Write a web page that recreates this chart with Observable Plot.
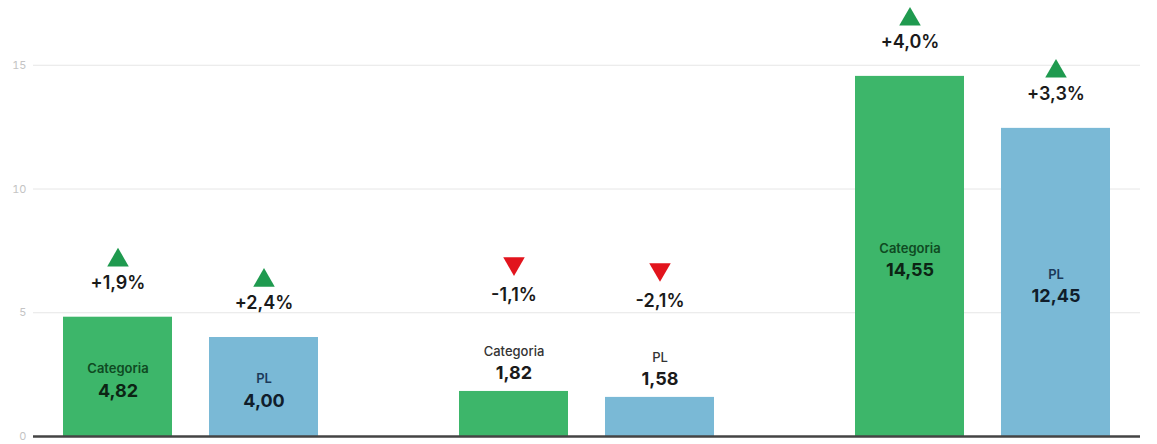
<!DOCTYPE html>
<html>
<head>
<meta charset="utf-8">
<script src="https://cdn.jsdelivr.net/npm/d3@7"></script>
<script src="https://cdn.jsdelivr.net/npm/@observablehq/plot@0.6"></script>
<style>
  html, body { margin: 0; padding: 0; background: #fff; }
</style>
</head>
<body>
<div id="chart"></div>
<script>
// ---- data ----
const groups = ["Gruppo 1", "Gruppo 2", "Gruppo 3"];
const series = ["Categoria", "PL"];
const categoriaValues = [4.82, 1.82, 14.55];
const plValues = [4.00, 1.58, 12.45];
const categoriaChange = [1.9, -1.1, 4.0];
const plChange = [2.4, -2.1, 3.3];
const yTicks = [0, 5, 10, 15];

// ---- table ----
const rows = [];
groups.forEach((g, i) => {
  rows.push({group: g, series: "Categoria", value: categoriaValues[i], change: categoriaChange[i]});
  rows.push({group: g, series: "PL", value: plValues[i], change: plChange[i]});
});

const fmtVal = v => v.toFixed(2).replace(".", ",");
const fmtChg = v => (v >= 0 ? "+" : "") + v.toFixed(1).replace(".", ",") + "%";

const style = {
  Categoria: {fill: "#3db66a", name: "#0f4a22", value: "#0c2414", dx: -73},
  PL: {fill: "#7ab9d6", name: "#1b3a5a", value: "#101d2b", dx: 73}
};
const upColor = "#1f9a4f", downColor = "#e2141d";
const threshold = 3;

function triSymbol(up) {
  return {
    draw(ctx, size) {
      const s = Math.sqrt(4 * size / Math.sqrt(3));
      const h = s * Math.sqrt(3) / 2;
      const k = up ? 1 : -1;
      ctx.moveTo(0, -k * 2 * h / 3);
      ctx.lineTo(s / 2, k * h / 3);
      ctx.lineTo(-s / 2, k * h / 3);
      ctx.closePath();
    }
  };
}
const triUp = triSymbol(true), triDown = triSymbol(false);

const font = "Inter, 'Noto Sans', sans-serif";

function seriesMarks(name) {
  const st = style[name];
  const data = rows.filter(d => d.series === name);
  const inside = data.filter(d => d.value >= threshold);
  const outside = data.filter(d => d.value < threshold);
  const marks = [];
  marks.push(Plot.barY(data, {x: "group", y: "value", fill: st.fill, dx: st.dx}));
  // inside labels
  marks.push(Plot.text(inside, {x: "group", y: d => d.value / 2, text: d => d.series, dx: st.dx, dy: -8,
    fill: st.name, fontSize: 13, fontWeight: 600, fontFamily: font}));
  marks.push(Plot.text(inside, {x: "group", y: d => d.value / 2, text: d => fmtVal(d.value), dx: st.dx, dy: 14,
    fill: st.value, fontSize: 18, fontWeight: 700, fontFamily: font}));
  // outside labels
  marks.push(Plot.text(outside, {x: "group", y: "value", text: d => d.series, dx: st.dx, dy: -40,
    fill: "#333", fontSize: 13, fontWeight: 500, fontFamily: font}));
  marks.push(Plot.text(outside, {x: "group", y: "value", text: d => fmtVal(d.value), dx: st.dx, dy: -18,
    fill: "#1a1a1a", fontSize: 18, fontWeight: 700, fontFamily: font}));
  // change labels
  marks.push(Plot.text(inside, {x: "group", y: "value", text: d => fmtChg(d.change), dx: st.dx, dy: -34,
    fill: "#1a1a1a", fontSize: 18, fontWeight: 600, fontFamily: font}));
  marks.push(Plot.text(outside, {x: "group", y: "value", text: d => fmtChg(d.change), dx: st.dx, dy: -96,
    fill: "#1a1a1a", fontSize: 18, fontWeight: 600, fontFamily: font}));
  // triangles
  const ups = d => d.change >= 0, downs = d => d.change < 0;
  marks.push(Plot.dot(inside.filter(ups), {x: "group", y: "value", dx: st.dx, dy: -57, symbol: triUp, r: 8, fill: upColor, stroke: null}));
  marks.push(Plot.dot(inside.filter(downs), {x: "group", y: "value", dx: st.dx, dy: -57, symbol: triDown, r: 8, fill: downColor, stroke: null}));
  marks.push(Plot.dot(outside.filter(ups), {x: "group", y: "value", dx: st.dx, dy: -128, symbol: triUp, r: 8, fill: upColor, stroke: null}));
  marks.push(Plot.dot(outside.filter(downs), {x: "group", y: "value", dx: st.dx, dy: -128, symbol: triDown, r: 8, fill: downColor, stroke: null}));
  return marks;
}

const chart = Plot.plot({
  width: 1157,
  height: 444,
  marginLeft: 33,
  marginRight: 17,
  marginTop: 40,
  marginBottom: 8,
  style: {fontFamily: font, background: "#fff"},
  x: {domain: groups, paddingInner: 0.724, paddingOuter: 0.258, axis: null},
  y: {domain: [0, 16]},
  marks: [
    Plot.ruleY(yTicks.filter(t => t > 0), {stroke: "#e6e6e6", strokeWidth: 1}),
    Plot.axisY(yTicks, {tickSize: 0, tickPadding: 7, label: null, color: "#c4c4c4", fontSize: 11}),
    ...seriesMarks("Categoria"),
    ...seriesMarks("PL"),
    Plot.ruleY([0], {stroke: "#444", strokeWidth: 2.5})
  ]
});
document.getElementById("chart").appendChild(chart);
</script>
</body>
</html>
